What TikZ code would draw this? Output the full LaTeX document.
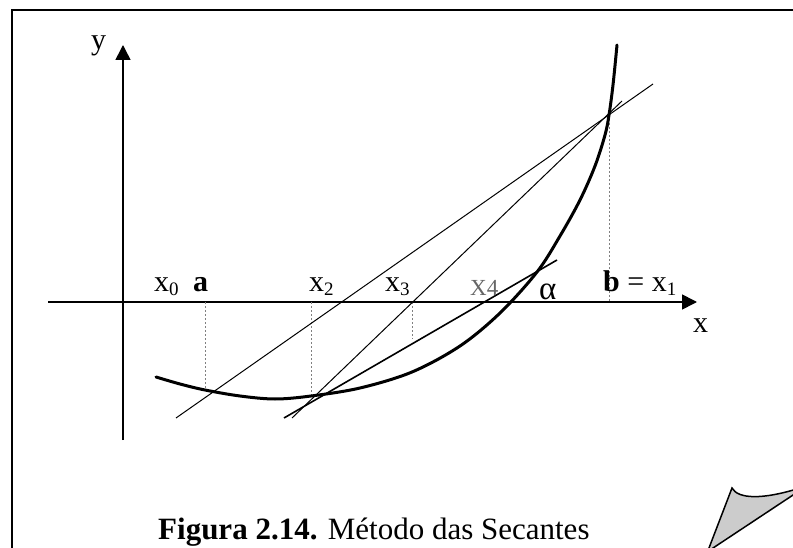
\documentclass[tikz,border=0pt]{standalone}
\usepackage{fontspec}
\setmainfont{Liberation Serif}
\usetikzlibrary{arrows.meta}
\newcommand{\mysub}[1]{\raisebox{-3.8pt}{\fontsize{19}{19}\selectfont #1}}
\begin{document}
\begin{tikzpicture}[x=1pt,y=-1pt,
  frame/.style={line width=2pt},
  axis/.style={line width=1.6pt,-{Triangle[length=15pt,width=15pt]}},
  curvestyle/.style={line width=3pt,line cap=round},
  secant/.style={line width=1pt},
  secantthick/.style={line width=1.6pt},
  guide/.style={gray,line width=0.7pt,dash pattern=on 2pt off 2pt},
  lab/.style={inner sep=0pt,anchor=base west,font=\fontsize{30}{32}\selectfont},
  captionstyle/.style={inner sep=0pt,anchor=base west,font=\fontsize{31}{33}\selectfont},
  curl/.style={fill=black!20,draw=black,line width=1.5pt,line join=miter}]
\useasboundingbox (0,0) rectangle (793,548);
\clip (0,0) rectangle (793,548);
% frame
\draw[frame] (12,560) -- (12,10) -- (800,10);
% axes
\coordinate (xs) at (48,302);
\coordinate (xe) at (697,302);
\coordinate (ys) at (123,440);
\coordinate (ye) at (123,45);
\draw[axis] (xs) -- (xe);
\draw[axis] (ys) -- (ye);
% guide lines
\coordinate (ga1) at (205,302); \coordinate (ga2) at (205,391);
\coordinate (g21) at (311,302); \coordinate (g22) at (311,396);
\coordinate (g31) at (412,302); \coordinate (g32) at (412,339);
\coordinate (gb1) at (609,115); \coordinate (gb2) at (609,302);
\draw[guide] (ga1) -- (ga2);
\draw[guide] (g21) -- (g22);
\draw[guide] (g31) -- (g32);
\draw[guide] (gb1) -- (gb2);
% secants
\coordinate (s1a) at (176,418); \coordinate (s1b) at (653,84);
\coordinate (s2a) at (292,418); \coordinate (s2b) at (622,101);
\coordinate (s3a) at (284,418); \coordinate (s3b) at (557,260);
\draw[secant] (s1a) -- (s1b);
\draw[secant] (s2a) -- (s2b);
\draw[secantthick] (s3a) -- (s3b);
% curve
\draw[curvestyle] plot[smooth,tension=0.55] coordinates {(156,377) (180,384) (205,390) (240,396) (275,399) (311,396) (360,388) (412,372) (460,346) (500,313) (537,272) (560,236) (580,200) (595,166) (605,135) (609,115) (613,85) (617,45)};
% labels
\node[lab] (ly) at (91,50) {y};
\node[lab] (lx) at (693,332) {x};
\node[lab] (lx0) at (154,292) {x\mysub{0}};
\node[lab] (la) at (193,291) {\textbf{a}};
\node[lab] (lx2) at (309,292) {x\mysub{2}};
\node[lab] (lx3) at (385,292) {x\mysub{3}};
\node[lab,font=\fontsize{23}{25}\selectfont,text=black!60] (lx4) at (470,295) {X4};
\node[lab,font=\fontsize{33}{35}\selectfont] (lal) at (539,300) {α};
\node[lab] (lb) at (603,292) {\textbf{b} = x\mysub{1}};
% caption
\node[captionstyle] (caption) at (158,539) {\textbf{Figura 2.14.} Método das Secantes};
% page curl
\draw[curl] (732,488) .. controls (738,499) and (762,500) .. (800,488) -- (800,490.4) -- (707.6,551.6) -- cycle;
\end{tikzpicture}
\end{document}
